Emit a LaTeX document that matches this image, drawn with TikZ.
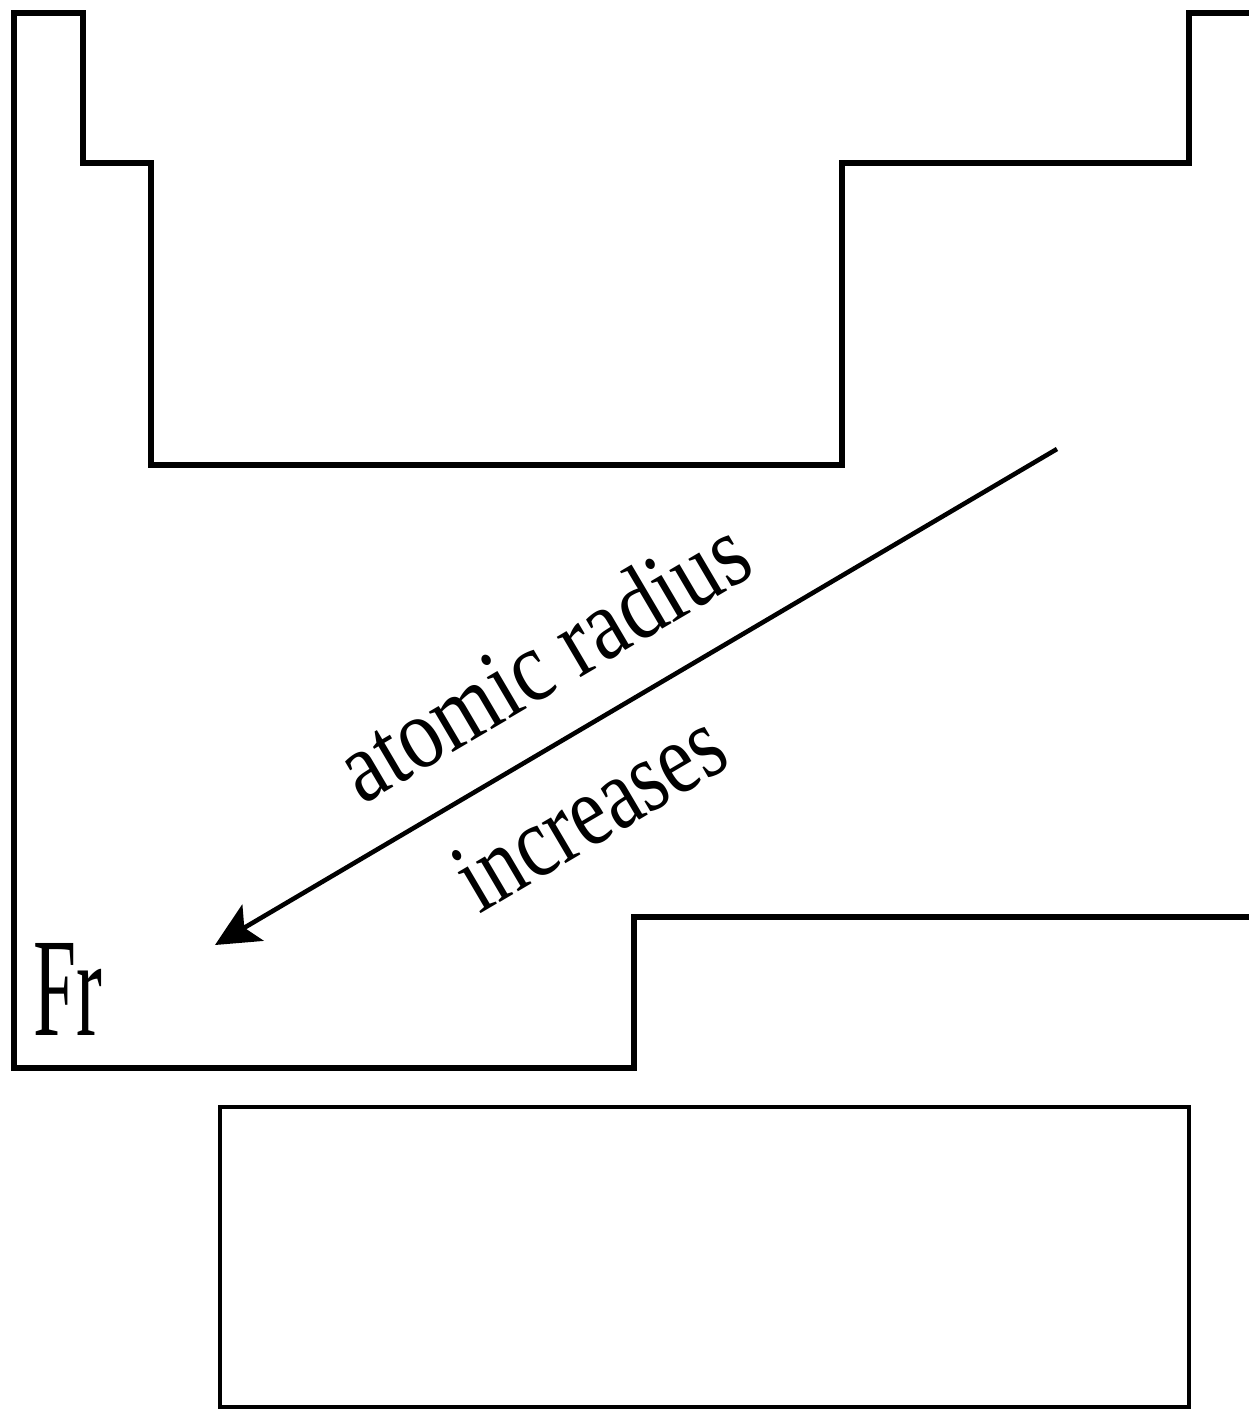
\documentclass[tikz,border=0pt]{standalone}
\usepackage{fontspec}
\setmainfont{Liberation Serif}
\usetikzlibrary{arrows.meta}

\tikzset{
	table line/.style={line width=1.8pt,line join=miter},
	block line/.style={line width=1.2pt},
	trend label/.style={font=\fontsize{29}{32}\selectfont,xscale=.83,sloped,anchor=base,inner sep=0pt}
}

\begin{document}
\begin{tikzpicture}[x=0.1mm,y=-0.1mm]
	\path[use as bounding box] (0,0) rectangle (1249,1410);
	% outline of the main table
	\draw [table line] (1249,13) -- (1189,13) -- (1189,163) -- (842,163)
		-- (842,465) -- (151,465) -- (151,163) -- (83,163) -- (83,13)
		-- (14,13) -- (14,1068) -- (634,1068) -- (634,917) -- (1249,917);
	% f-block
	\draw [block line] (220,1107) rectangle (1189,1407);
	\node [anchor=base west,inner sep=0pt,xscale=.55,
		font=\fontsize{40}{44}\selectfont] (fr) at (33,1035) {Fr};
	\coordinate (from) at (1057,449);
	\coordinate (to) at (215,945);
	\draw [-{Stealth[length=4.4mm,width=4.2mm,inset=1mm]},line width=1.3pt] (from) -- (to)
		node [trend label,pos=.563,yshift=4.5mm] (radius) {atomic radius}
		node [trend label,pos=.6,yshift=-10.8mm,xscale=.95] (incr) {increases};
\end{tikzpicture}
\end{document}
